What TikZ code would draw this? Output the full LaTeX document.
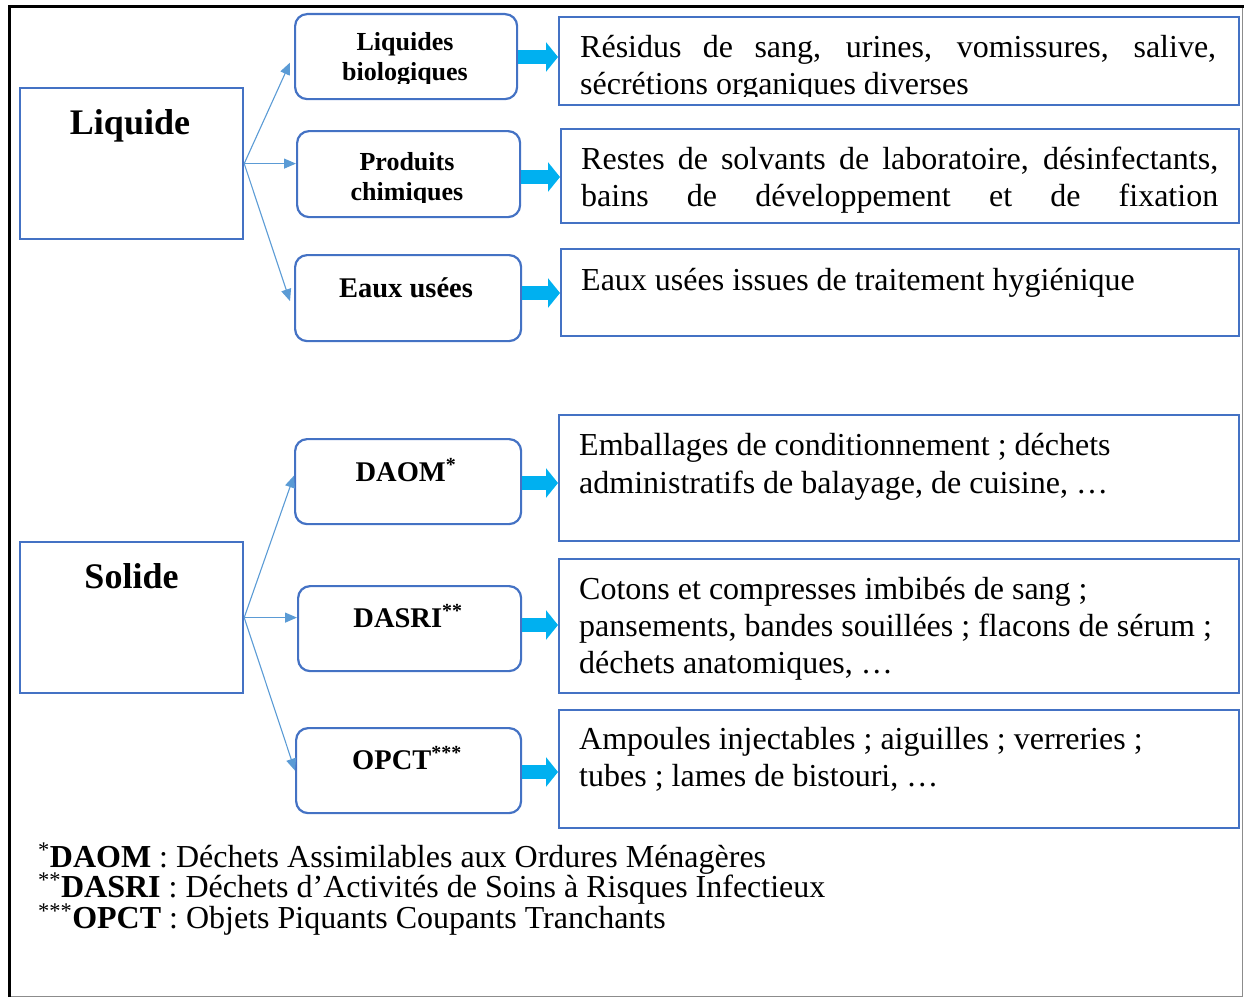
\documentclass[tikz,border=0pt]{standalone}
\usepackage{fontspec}
\setmainfont{Liberation Serif}
\usetikzlibrary{arrows.meta,calc}
\definecolor{boxblue}{HTML}{4472C4}
\definecolor{thinblue}{HTML}{5B9BD5}
\definecolor{cyanarr}{HTML}{00B0F0}
\begin{document}
\begin{tikzpicture}[x=1pt,y=-1pt,
  catbox/.style={draw=boxblue,line width=2.2pt,minimum width=223pt,minimum height=151pt,anchor=north west,inner sep=0pt},
  subbox/.style={draw=boxblue,line width=2.2pt,rounded corners=12pt,anchor=north west,inner sep=0pt},
  descbox/.style={draw=boxblue,line width=2.2pt,anchor=north west,inner sep=0pt},
  thinarr/.style={draw=thinblue,line width=1.1pt,-{Triangle[length=12pt,width=10pt]}},
  blockarr/.style={draw=cyanarr,line width=14pt,-{Triangle[length=12pt,width=29pt]}},
  bigl/.style={font=\fontsize{36}{40}\selectfont\bfseries,anchor=base,inner sep=0pt},
  subl/.style={font=\fontsize{26}{30}\selectfont\bfseries,anchor=base,inner sep=0pt},
  subm/.style={font=\fontsize{28.5}{32}\selectfont\bfseries,anchor=base,inner sep=0pt},
  desct/.style={font=\fontsize{32}{37}\selectfont,anchor=base west,inner sep=0pt},
  notet/.style={font=\fontsize{32}{37}\selectfont,anchor=base west,inner sep=0pt}]
\useasboundingbox (0,0) rectangle (1244,998);
% outer frame
\draw[black!45,line width=1pt] (1242,7) -- (1242,996) -- (9,996);
\draw[black,line width=3pt] (9,997) -- (9,7) -- (1243.5,7);
% category boxes
\node[catbox] (liq) at (19,87) {};
\node[catbox] (sol) at (19,541) {};
\node[bigl] (liqT) at (130,134) {Liquide};
\node[bigl] (solT) at (131.5,588) {Solide};
% sub boxes
\node[subbox,minimum width=222pt,minimum height=85pt] (lb) at (294,13) {};
\node[subbox,minimum width=223pt,minimum height=86pt] (pc) at (296,130) {};
\node[subbox,minimum width=226pt,minimum height=86pt] (eu) at (294,254) {};
\node[subbox,minimum width=226pt,minimum height=85pt] (daom) at (294,438) {};
\node[subbox,minimum width=223pt,minimum height=85pt] (dasri) at (297,585) {};
\node[subbox,minimum width=225pt,minimum height=85pt] (opct) at (295,727) {};
\node[subl] (lbT1) at (405,51) {Liquides};
\begin{scope}
\clip (294,13) rectangle (516,83);
\node[subl] (lbT2) at (405,81) {biologiques};
\end{scope}
\node[subl] (pcT1) at (407,170) {Produits};
\begin{scope}
\clip (296,130) rectangle (519,202);
\node[subl] (pcT2) at (407,200) {chimiques};
\end{scope}
\node[subm] (euT) at (406,297) {Eaux usées};
\node[subm] (daomT) at (406,481) {DAOM\textsuperscript{*}};
\node[subm] (dasriT) at (408,627) {DASRI\textsuperscript{**}};
\node[subm] (opctT) at (407,769) {OPCT\textsuperscript{***}};
% description boxes
\node[descbox,minimum width=680pt,minimum height=88pt] (d1) at (558,16) {};
\node[descbox,minimum width=678pt,minimum height=94pt] (d2) at (560,128) {};
\node[descbox,minimum width=678pt,minimum height=87pt] (d3) at (560,248) {};
\node[descbox,minimum width=680pt,minimum height=126pt] (d4) at (558,414) {};
\node[descbox,minimum width=680pt,minimum height=134pt] (d5) at (558,558) {};
\node[descbox,minimum width=680pt,minimum height=118pt] (d6) at (558,709) {};
\node[desct] (d1a) at (580,57) {\makebox[636pt][s]{Résidus de sang, urines, vomissures, salive,}};
\begin{scope}
\clip (558,16) rectangle (1238,96);
\node[desct] (d1b) at (580,94) {sécrétions organiques diverses};
\end{scope}
\node[desct] (d2a) at (581,169) {\makebox[637pt][s]{Restes de solvants de laboratoire, désinfectants,}};
\node[desct] (d2b) at (581,206) {\makebox[637pt][s]{bains de développement et de fixation}};
\node[desct] (d3a) at (581,290) {Eaux usées issues de traitement hygiénique};
\node[desct] (d4a) at (579,455) {Emballages de conditionnement ; déchets};
\node[desct] (d4b) at (579,493) {administratifs de balayage, de cuisine, …};
\node[desct] (d5a) at (579,599) {Cotons et compresses imbibés de sang ;};
\node[desct] (d5b) at (579,636) {pansements, bandes souillées ; flacons de sérum ;};
\node[desct] (d5c) at (579,673) {déchets anatomiques, …};
\node[desct] (d6a) at (579,749) {Ampoules injectables ; aiguilles ; verreries ;};
\node[desct] (d6b) at (579,786) {tubes ; lames de bistouri, …};
% thin arrows
\draw[thinarr] (liq.east) -- ($(lb.west)+(-4,6)$);
\draw[thinarr] (liq.east) -- (liq.east -| pc.west);
\draw[thinarr] (liq.east) -- ($(eu.west)+(-4,3)$);
\draw[thinarr] (sol.east) -- ($(daom.west)+(0,-6)$);
\draw[thinarr] (sol.east) -- (sol.east -| dasri.west);
\draw[thinarr] (sol.east) -- (opct.west);
% block arrows
\coordinate (y1) at (0,57);
\coordinate (y2) at (0,177);
\coordinate (y3) at (0,293);
\coordinate (y4) at (0,483);
\coordinate (y5) at (0,625);
\coordinate (y6) at (0,772);
\draw[blockarr] (lb.east |- y1) -- (d1.west |- y1);
\draw[blockarr] (pc.east |- y2) -- (d2.west |- y2);
\draw[blockarr] (eu.east |- y3) -- (d3.west |- y3);
\draw[blockarr] (daom.east |- y4) -- (d4.west |- y4);
\draw[blockarr] (dasri.east |- y5) -- (d5.west |- y5);
\draw[blockarr] (opct.east |- y6) -- (d6.west |- y6);
% footnotes
\node[notet] (n1) at (38,867) {\textsuperscript{*}\textbf{DAOM} : Déchets Assimilables aux Ordures Ménagères};
\node[notet] (n2) at (38,897) {\textsuperscript{**}\textbf{DASRI} : Déchets d’Activités de Soins à Risques Infectieux};
\node[notet] (n3) at (38,928) {\textsuperscript{***}\textbf{OPCT} : Objets Piquants Coupants Tranchants};
\end{tikzpicture}
\end{document}
